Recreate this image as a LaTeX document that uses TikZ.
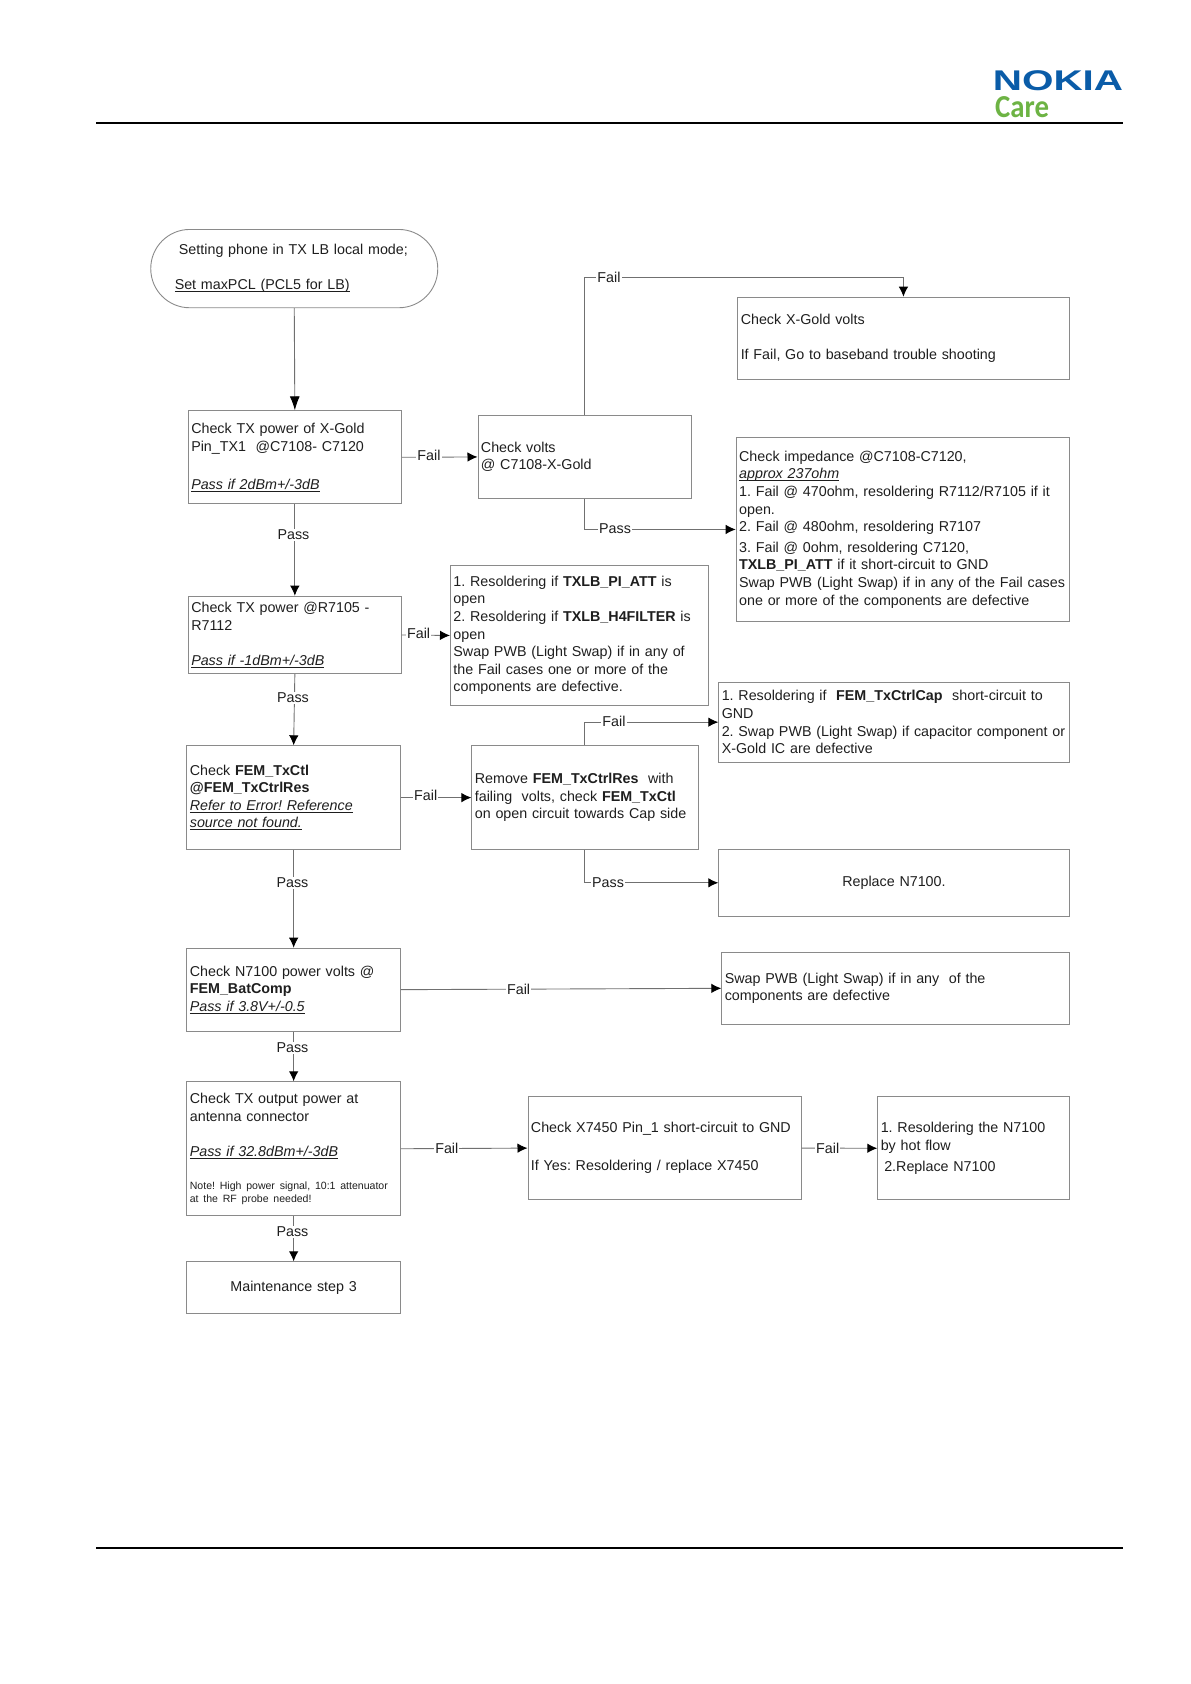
\documentclass[tikz,border=0pt]{standalone}
\usepackage{fontspec}
\setmainfont{Liberation Sans}
\newfontfamily\carefont{Carlito}
\usetikzlibrary{arrows.meta}
\definecolor{boxgray}{HTML}{8A8A8A}
\definecolor{flowgray}{HTML}{707070}
\definecolor{inkgray}{HTML}{1E1E1E}
\definecolor{nokiablue}{HTML}{0A5CA8}
\definecolor{caregreen}{HTML}{6DB344}
\newcommand{\lineunder}[1]{\leavevmode\setbox0=\hbox{#1}\rlap{\rule[-2.4pt]{\wd0}{0.9pt}}\box0}
\newcommand{\passif}[1]{\textit{\lineunder{#1}}}
\newcommand{\notesize}[1]{{\fontsize{10.55}{12.7}\selectfont #1}}
\tikzset{
  chkbox/.style={draw=boxgray, line width=0.9pt, anchor=north west, inner xsep=3pt, inner ysep=0pt,
    align=left, text=inkgray, font=\fontsize{14.3}{17.6}\selectfont\frenchspacing},
  flow/.style={draw=flowgray, line width=0.9pt, -{Latex[length=10pt,width=9.5pt,color=black]}},
  flowlbl/.style={fill=white, text=inkgray, inner xsep=1pt, inner ysep=1pt, font=\fontsize{14.3}{17.6}\selectfont},
}
\begin{document}
\begin{tikzpicture}[x=1pt, y=-1pt]
  \useasboundingbox (0,0) rectangle (1191,1684);
  % page head and foot
  \node[anchor=west, inner sep=0pt, text=nokiablue, xscale=1.42, transform shape,
    font=\fontsize{28.5}{28.5}\selectfont\bfseries] (nokia) at (992.5,80.7) {NOKIA};
  \node[anchor=west, inner sep=0pt, text=caregreen, xscale=0.9, transform shape,
    font=\fontsize{32}{32}\carefont\bfseries] (care) at (995,107.5) {Care};
  \draw[line width=1.8pt] (96,122.6) -- (1122.7,122.6);
  \draw[line width=1.8pt] (96,1547.6) -- (1122.7,1547.6);
  % left column
  \node[chkbox, rounded corners=39pt, inner xsep=24pt, text width=239pt, minimum height=78.3pt] (setup) at (150.3,229)
    {\hspace*{4.2pt}Setting phone in TX LB local mode;\\[17.6pt] \lineunder{Set maxPCL (PCL5 for LB)}};
  \node[chkbox, text width=207.2pt, minimum height=93pt] (txgold) at (187.8,410.3)
    {Check TX power of X-Gold\\ Pin\_TX1\ \ @C7108- C7120\\[20.4pt] \passif{Pass if 2dBm+/-3dB}};
  \node[chkbox, text width=207.2pt, minimum height=77.6pt] (txres) at (187.8,595.7)
    {Check TX power @R7105 -\\ R7112\\[17.6pt] \passif{Pass if -1dBm+/-3dB}};
  \node[chkbox, text width=207.6pt, minimum height=103.7pt] (femctl) at (186.4,745.3)
    {Check \textbf{FEM\_TxCtl}\\ \textbf{@FEM\_TxCtrlRes}\\ \passif{Refer to Error! Reference}\\ \passif{source not found.}};
  \node[chkbox, text width=207.6pt, minimum height=83pt] (batcomp) at (186.4,947.7)
    {Check N7100 power volts @\\ \textbf{FEM\_BatComp}\\ \passif{Pass if 3.8V+/-0.5}};
  \node[chkbox, text width=207.6pt, minimum height=134pt] (txant) at (186.4,1081.3)
    {Check TX output power at\\ antenna connector\\[17.6pt] \passif{Pass if 32.8dBm+/-3dB}\\[15.7pt]
    \notesize{Note! High power signal, 10:1 attenuator}\\[-4.9pt] \notesize{at the RF probe needed!}};
  \node[chkbox, align=center, text width=207.6pt, minimum height=51.4pt] (mainstep) at (186.4,1261.3)
    {Maintenance step 3};
  % middle column
  \node[chkbox, text width=207.2pt, minimum height=82.4pt] (voltsgold) at (477.5,415.3)
    {Check volts\\ @ C7108-X-Gold};
  \node[chkbox, text width=252.3pt, minimum height=139.4pt] (pires) at (450,565.3)
    {1. Resoldering if \textbf{TXLB\_PI\_ATT} is\\ open\\ 2. Resoldering if \textbf{TXLB\_H4FILTER} is\\ open\\
    Swap PWB (Light Swap) if in any of\\ the Fail cases one or more of the\\ components are defective.};
  \node[chkbox, text width=220.1pt, minimum height=103.7pt] (remove) at (471.4,745.3)
    {Remove \textbf{FEM\_TxCtrlRes}\ \ with\\ failing\ \ volts, check \textbf{FEM\_TxCtl}\\ on open circuit towards Cap side};
  \node[chkbox, text width=267.2pt, minimum height=103.3pt] (xconn) at (527.5,1096)
    {Check X7450 Pin\_1 short-circuit to GND\\[20.7pt] If Yes: Resoldering / replace X7450};
  % right column
  \node[chkbox, text width=325.4pt, minimum height=82.6pt] (xgoldbb) at (737.3,296.7)
    {Check X-Gold volts\\[17.6pt] If Fail, Go to baseband trouble shooting};
  \node[chkbox, text width=327pt, minimum height=184.6pt] (impedance) at (735.7,436.7)
    {Check impedance @C7108-C7120,\\ \passif{approx 237ohm}\\ 1. Fail @ 470ohm, resoldering R7112/R7105 if it\\ open.\\
    2. Fail @ 480ohm, resoldering R7107\\[3pt] 3. Fail @ 0ohm, resoldering C7120,\\ \textbf{TXLB\_PI\_ATT} if it short-circuit to GND\\
    Swap PWB (Light Swap) if in any of the Fail cases\\ one or more of the components are defective};
  \node[chkbox, text width=344.4pt, minimum height=80pt] (capres) at (718.3,681.7)
    {1. Resoldering if\ \ \textbf{FEM\_TxCtrlCap}\ \ short-circuit to\\ GND\\ 2. Swap PWB (Light Swap) if capacitor component or\\ X-Gold IC are defective};
  \node[chkbox, align=center, text width=344.4pt, minimum height=66.7pt] (replace) at (718.3,849)
    {Replace N7100.};
  \node[chkbox, text width=341.4pt, minimum height=72.3pt] (swappwb) at (721.3,951.7)
    {Swap PWB (Light Swap) if in any\ \ of the\\ components are defective};
  \node[chkbox, text width=185.4pt, minimum height=103pt] (hotflow) at (877.3,1096.3)
    {1. Resoldering the N7100\\ by hot flow\\[3pt] \hspace*{3.5pt}2.Replace N7100};
  % connectors down the left column
  \draw[flow, -{Latex[length=14pt,width=10pt,color=black]}] (setup.south) -- (txgold.north);
  \draw[flow] (txgold.south) -- (txres.north);
  \draw[flow] (txres.south) -- (femctl.north);
  \draw[flow] (femctl.south) -- (batcomp.north);
  \draw[flow] (batcomp.south) -- (txant.north);
  \draw[flow] (txant.south) -- (mainstep.north);
  % connectors to the right
  \coordinate (voltsup) at (voltsgold.north |- 0,277.3);
  \draw[flow] (txgold.east) -- (voltsgold.west);
  \draw[flow] (voltsgold.north) -- (voltsup) -| (xgoldbb.north);
  \draw[flow] (voltsgold.south) |- (impedance.west);
  \draw[flow] (txres.east) -- (pires.west);
  \draw[flow] (femctl.east) -- (remove.west);
  \draw[flow] (remove.north) |- (capres.west);
  \draw[flow] (remove.south) |- (replace.west);
  \draw[flow] (batcomp.east) -- (swappwb.west);
  \draw[flow] (txant.east) -- (xconn.west);
  \draw[flow] (xconn.east) -- (hotflow.west);
  % labels on the connectors
  \node[flowlbl] (failgold) at (429,455) {Fail};
  \node[flowlbl] (passgold) at (293.5,535) {Pass};
  \node[flowlbl] (failup) at (609,277) {Fail};
  \node[flowlbl] (passvolts) at (615,529) {Pass};
  \node[flowlbl] (failres) at (418.6,633) {Fail};
  \node[flowlbl] (passres) at (293,697.7) {Pass};
  \node[flowlbl] (failcap) at (614,721.5) {Fail};
  \node[flowlbl] (failfem) at (425.7,795) {Fail};
  \node[flowlbl] (passrem) at (608,883) {Pass};
  \node[flowlbl] (passfem) at (292.5,883) {Pass};
  \node[flowlbl] (failbat) at (518.6,989) {Fail};
  \node[flowlbl] (passbat) at (292.5,1048) {Pass};
  \node[flowlbl] (failant) at (446.8,1148) {Fail};
  \node[flowlbl] (passant) at (292.5,1231.5) {Pass};
  \node[flowlbl] (failconn) at (827.7,1148) {Fail};
\end{tikzpicture}
\end{document}
